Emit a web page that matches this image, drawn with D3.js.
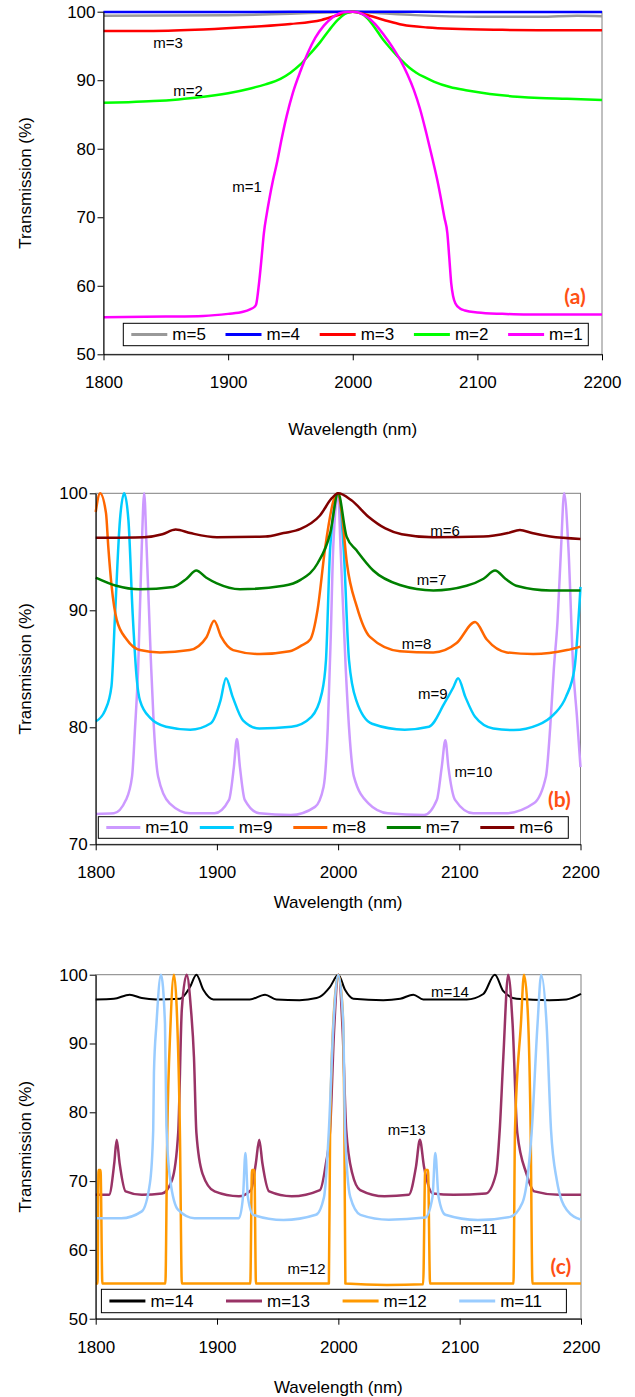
<!DOCTYPE html>
<html>
<head>
<meta charset="utf-8">
<script src="https://cdn.jsdelivr.net/npm/d3@7"></script>
<style>
  body { margin: 0; background: #fff; }
  svg { display: block; font-family: "Liberation Sans", Arial, sans-serif; }
</style>
</head>
<body>
<div id="chart"></div>
<script>
// === Data (wavelength nm, transmission %) ===
var xTicks = [1800, 1900, 2000, 2100, 2200];
var yTicksA = [50, 60, 70, 80, 90, 100];
var yTicksB = [70, 80, 90, 100];
var yTicksC = [50, 60, 70, 80, 90, 100];

// panel (a)
var a_m5 = [[1800,99.4],[1850,99.45],[1900,99.5],[1950,99.7],[1980,99.9],[2000,100],[2020,99.8],[2050,99.5],[2100,99.25],[2150,99.25],[2180,99.4],[2200,99.35]];
var a_m4 = [[1800,99.95],[1900,99.95],[2000,100],[2100,99.95],[2200,99.95]];
var a_m3 = [[1800,97.2],[1840,97.2],[1880,97.4],[1920,97.8],[1950,98.2],[1975,98.8],[1990,99.6],[2000,100],[2010,99.6],[2025,98.8],[2040,98.1],[2060,97.7],[2080,97.5],[2120,97.35],[2160,97.3],[2200,97.3]];
var a_m2 = [[1800,86.7],[1820,86.8],[1840,86.95],[1860,87.2],[1877,87.5],[1900,88.1],[1918,88.8],[1930,89.4],[1942,90.2],[1950,91.1],[1958,92.3],[1966,93.9],[1974,95.6],[1981,97.3],[1988,98.8],[1994,99.7],[2000,100],[2006,99.8],[2012,99.0],[2018,97.6],[2024,96.0],[2031,94.5],[2038,93.1],[2045,91.9],[2051,91.1],[2058,90.4],[2065,89.8],[2078,89.0],[2092,88.5],[2110,88.0],[2132,87.6],[2150,87.4],[2172,87.3],[2200,87.1]];
var a_m1 = [[1800,55.4],[1850,55.5],[1880,55.6],[1900,55.9],[1912,56.2],[1918,56.6],[1921,56.9],[1922.5,57.3],[1924.8,60.4],[1926.8,64],[1928.7,67.7],[1931,70.5],[1933,72.6],[1936,75.4],[1939,77.8],[1943,81.5],[1947,84.8],[1952,88.2],[1958,91.3],[1964,94.0],[1970,96.2],[1977,98.0],[1984,99.2],[1992,99.9],[2000,100],[2006,99.8],[2012,99.2],[2018,98.2],[2025,96.6],[2032,94.8],[2038,93.0],[2044,90.8],[2049,88.6],[2054,85.8],[2059,82.3],[2064,78.5],[2068,75.3],[2071,72.5],[2073.5,70],[2075.9,67.7],[2077.5,64],[2079,60.4],[2080.5,58.5],[2082.4,57.4],[2086,56.7],[2090,56.4],[2100,56.1],[2120,55.9],[2140,55.8],[2200,55.8]];

// panel (b)
var b_m10 = [[1800,72.6],[1815,72.65],[1825,73.8],[1830,75.8],[1832.5,80],[1835,85],[1838,95.4],[1840,100],[1842,95.4],[1845.5,85.8],[1848,80],[1851.5,75.8],[1861,73.5],[1878,72.65],[1898,72.65],[1910,73.8],[1914,76.6],[1916.5,79.0],[1919,76.6],[1923,73.8],[1935,72.65],[1961,72.5],[1981,73.2],[1988,74.9],[1991.5,80],[1994,88],[1996,95.4],[2000,100],[2002,95.4],[2006.3,85],[2009,80],[2013,75.8],[2025,73.5],[2041,72.65],[2071,72.5],[2081.5,73.8],[2085.5,76.6],[2088.5,78.9],[2091,76.6],[2096.5,73.8],[2111.5,72.65],[2138,72.65],[2161.5,73.5],[2171.5,75.8],[2175,80],[2178,85],[2181,89],[2184,95.4],[2186.5,100],[2190,95.4],[2194,85],[2197,81],[2200,76.6]];
var b_m9 = [[1800,80.5],[1808,81.5],[1813,83.5],[1816,89.7],[1820,97.7],[1823.5,100],[1827,97.7],[1830.5,89.7],[1834,84],[1836.5,82.3],[1845,80.8],[1858,80.05],[1878,79.8],[1895,80.35],[1903,82.3],[1907.5,84.2],[1913,82.6],[1921.5,80.6],[1935,79.9],[1961.5,80.05],[1978,80.9],[1986.5,82.9],[1990,85.75],[1993.5,95.4],[2000,100],[2004.5,95.4],[2009,85.75],[2015,82.3],[2028,80.3],[2055,79.8],[2075,80.05],[2088,82.1],[2095,83.4],[2099,84.2],[2105,82.6],[2113,80.9],[2128,79.9],[2145,79.76],[2165,80.2],[2178,81.1],[2188,82.6],[2195,85],[2200,92]];
var b_m8 = [[1800,98.4],[1803.6,100],[1808.5,98.3],[1810.4,95.4],[1813.2,92.0],[1817.3,89.2],[1825.6,87.5],[1836.5,86.6],[1853,86.4],[1877.6,86.6],[1891.4,87.7],[1897.7,89.1],[1903.7,87.7],[1913.4,86.6],[1935.4,86.26],[1960,86.5],[1970,87.0],[1977,87.5],[1983,90.0],[1989.4,95.4],[1996.3,99.4],[2000,100],[2003,98.3],[2007.3,94.0],[2015.5,90.3],[2026.5,87.7],[2051,86.5],[2078.6,86.4],[2097.8,87.2],[2113,89.0],[2122.7,87.5],[2139.2,86.4],[2161,86.26],[2188.8,86.6],[2200,86.9]];
var b_m7 = [[1800,92.8],[1817,92.1],[1836,91.8],[1864,92.0],[1875,92.7],[1883,93.4],[1891,92.8],[1900,92.3],[1919,91.8],[1955,92.1],[1969,92.6],[1983,94.0],[1993.5,96.6],[2000,100],[2007,96.3],[2015,95.15],[2029,93.4],[2051,92.16],[2078.6,91.7],[2106,92.1],[2120,92.7],[2129.5,93.4],[2138,92.7],[2147,92.1],[2175,91.7],[2200,91.7]];
var b_m6 = [[1800,96.2],[1840,96.25],[1855,96.5],[1866,96.9],[1878,96.6],[1900,96.25],[1940,96.3],[1955,96.6],[1969,96.95],[1985,98.1],[1995,99.6],[2000,100],[2011,99.4],[2025,98.0],[2039,97.0],[2052.5,96.5],[2078.6,96.24],[2120,96.3],[2140,96.6],[2150,96.86],[2160,96.6],[2175,96.3],[2200,96.1]];

// panel (c)
var c_m14 = [[1800,96.4],[1815,96.5],[1828,97.1],[1838,96.6],[1850,96.4],[1869.5,96.5],[1877.7,98.2],[1883,100],[1888.7,97.8],[1897,96.4],[1927,96.4],[1939.6,97.1],[1949,96.4],[1968,96.3],[1982,96.6],[1985,96.8],[1993,98.2],[2000,100],[2005.5,97.8],[2012.4,96.5],[2037,96.3],[2051,96.5],[2061.8,97.1],[2070,96.4],[2105.8,96.4],[2119.5,97.2],[2129,100],[2136,97.6],[2147,96.5],[2174,96.3],[2188,96.4],[2200,97.2]];
var c_m13 = [[1800,68.0],[1811,68.0],[1815.3,72.6],[1817.3,76.0],[1819.7,72.6],[1824.7,68.5],[1838,68.0],[1854.7,68.2],[1863,70.2],[1868,77],[1871,95],[1875,100],[1878.5,95],[1881,88],[1883,77],[1888,71.1],[1898,68.5],[1918,67.8],[1928,68.7],[1932,72.6],[1934.8,76.0],[1937.4,72.6],[1943,68.5],[1961.5,67.8],[1984.8,68.7],[1989.8,72.6],[1993.2,77.4],[1996.5,92],[2000,100],[2003.5,92],[2006.5,77.4],[2011.5,71.1],[2018,68.7],[2038,67.8],[2058,68.0],[2064,72.1],[2067.2,76.0],[2070.6,72.1],[2078,68.2],[2095,68.0],[2121.6,68.2],[2130,71.1],[2133,77.4],[2136,88.1],[2140,100],[2143.6,92.9],[2147.5,77.0],[2155,71.1],[2161.6,68.5],[2181.6,68.0],[2200,68.0]];
var c_m12 = [[1800,55.1],[1801.5,55.1],[1802.3,71.6],[1804,71.6],[1805.5,55.1],[1857.4,55.1],[1859,77],[1861.5,92],[1864.5,100],[1866.7,95.4],[1869.5,76.0],[1871,55.1],[1927.4,55.1],[1928.8,71.6],[1930.8,71.6],[1932.1,55.1],[1992.2,55.1],[1993.2,77.4],[1996.5,95],[2000,100],[2003.5,95],[2005,77.4],[2005.8,55.1],[2040,54.9],[2069.9,55.0],[2071.6,71.6],[2073.9,71.6],[2075.6,55.1],[2144.3,55.1],[2145.6,77.4],[2150.5,92.9],[2153,100],[2156,95],[2158.5,77.4],[2160,55.1],[2200,55.1]];
var c_m11 = [[1800,64.6],[1821,64.6],[1838,65.6],[1844.7,69.7],[1847.4,77.4],[1848,85.7],[1850.1,92.9],[1853.8,100],[1857.1,92.9],[1858.3,78],[1861.4,70.2],[1868,65.8],[1881.4,64.6],[1918,64.6],[1921.4,67.7],[1923.4,74.1],[1925.4,67.7],[1929.8,65.1],[1954.8,64.35],[1981.5,65.1],[1988.2,67.7],[1992.2,77.4],[1996,93],[2000,100],[2004,93],[2005.5,77.4],[2009.8,67.7],[2018.2,65.1],[2041.5,64.4],[2071.6,64.7],[2077.6,67.7],[2079.9,74.1],[2082.6,67.7],[2088.2,65.1],[2115,64.35],[2141.6,64.8],[2151.6,66.8],[2156.6,71.6],[2159.3,77],[2164.2,92.9],[2167.2,100],[2171.6,92.9],[2175.3,77.4],[2180,70.2],[2188.3,65.8],[2200,64.4]];

// === Layout options ===
var opts = {
  width: 635,
  height: 1397,
  tickFont: 17,
  labelFont: 15,
  tagColor: '#ff5014'
};

var panels = [
  {
    tag: '(a)', tagAt: [2187, 58.4],
    left: 103.5, right: 602, top: 11.7, bottom: 354.3,
    yDomain: [50, 100], yTicks: yTicksA, titleY: 435,
    legend: {x: 123.3, y: 323.3, w: 465, h: 22.4, step: 94.2, lineW: 36},
    series: [
      {name: 'm=5', color: '#999999', width: 2.5, values: a_m5},
      {name: 'm=4', color: '#0000ff', width: 2.5, values: a_m4},
      {name: 'm=3', color: '#ff0000', width: 2.5, values: a_m3},
      {name: 'm=2', color: '#00ff00', width: 2.5, values: a_m2},
      {name: 'm=1', color: '#ff00ff', width: 2.5, values: a_m1}
    ],
    labels: [['m=3', 1851.8, 95.4], ['m=2', 1867.8, 88.4], ['m=1', 1915.2, 74.4]]
  },
  {
    tag: '(b)', tagAt: [2192, 73.8],
    left: 95.7, right: 580.5, top: 493.3, bottom: 844.3,
    yDomain: [70, 100], yTicks: yTicksB, titleY: 908,
    legend: {x: 98.3, y: 816.7, w: 470, h: 21.6, step: 93.5, lineW: 34},
    series: [
      {name: 'm=10', color: '#cc99ff', width: 2.5, values: b_m10},
      {name: 'm=9', color: '#00ccff', width: 2.5, values: b_m9},
      {name: 'm=8', color: '#ff6600', width: 2.5, values: b_m8},
      {name: 'm=7', color: '#008000', width: 2.5, values: b_m7},
      {name: 'm=6', color: '#800000', width: 2.5, values: b_m6}
    ],
    labels: [['m=6', 2088.2, 96.8], ['m=7', 2077.2, 92.6], ['m=8', 2064.8, 87.1], ['m=9', 2078.2, 82.9], ['m=10', 2111.6, 76.2]]
  },
  {
    tag: '(c)', tagAt: [2192, 57.6],
    left: 95.7, right: 581, top: 974.7, bottom: 1318.7,
    yDomain: [50, 100], yTicks: yTicksC, titleY: 1393,
    legend: {x: 101.4, y: 1289.3, w: 465, h: 23.4, step: 116.6, lineW: 36},
    series: [
      {name: 'm=14', color: '#000000', width: 2, values: c_m14},
      {name: 'm=13', color: '#993366', width: 2.5, values: c_m13},
      {name: 'm=12', color: '#ff9900', width: 2.5, values: c_m12},
      {name: 'm=11', color: '#99ccff', width: 2.5, values: c_m11}
    ],
    labels: [['m=14', 2092, 97.5], ['m=13', 2056.3, 77.4], ['m=11', 2115.6, 63.1], ['m=12', 1973.8, 57.3]]
  }
];

var svg = d3.select('#chart')
  .append('svg')
    .attr('width', opts.width)
    .attr('height', opts.height);

svg.append('rect')
  .attr('width', opts.width)
  .attr('height', opts.height)
  .attr('fill', '#fff');

panels.forEach(drawPanel);

function drawPanel(p) {
  var x = d3.scaleLinear().domain([1800, 2200]).range([p.left, p.right]);
  var y = d3.scaleLinear().domain(p.yDomain).range([p.bottom, p.top]);

  var g = svg.append('g').attr('class', 'panel');

  // plot area frame (grey, Excel style)
  g.append('rect')
    .attr('x', p.left)
    .attr('y', p.top)
    .attr('width', p.right - p.left)
    .attr('height', p.bottom - p.top)
    .attr('fill', 'none')
    .attr('stroke', '#808080')
    .attr('stroke-width', 1);

  var line = d3.line()
    .x(function(d) { return x(d[0]); })
    .y(function(d) { return y(d[1]); })
    .curve(d3.curveMonotoneX);

  g.selectAll('path.series')
    .data(p.series)
    .enter()
    .append('path')
      .attr('class', 'series')
      .attr('fill', 'none')
      .attr('stroke', function(d) { return d.color; })
      .attr('stroke-width', function(d) { return d.width; })
      .attr('stroke-linejoin', 'round')
      .attr('d', function(d) { return line(d.values); });

  // axes
  var xAxis = d3.axisBottom(x).tickValues(xTicks).tickFormat(d3.format('d'))
    .tickSize(6).tickSizeOuter(0).tickPadding(16);
  var yAxis = d3.axisLeft(y).tickValues(p.yTicks).tickFormat(d3.format('d'))
    .tickSize(6).tickSizeOuter(0).tickPadding(2);

  var gx = g.append('g')
    .attr('transform', 'translate(0,' + p.bottom + ')')
    .call(xAxis);
  var gy = g.append('g')
    .attr('transform', 'translate(' + p.left + ',0)')
    .call(yAxis);

  [gx, gy].forEach(function(ax) {
    ax.selectAll('path, line').attr('stroke', '#000');
    ax.selectAll('text')
      .attr('fill', '#000')
      .style('font-size', opts.tickFont + 'px')
      .style('font-family', '"Liberation Sans", Arial, sans-serif');
  });

  // axis titles
  g.append('text')
    .attr('x', (p.left + p.right) / 2)
    .attr('y', p.titleY)
    .attr('text-anchor', 'middle')
    .style('font-size', opts.tickFont + 'px')
    .text('Wavelength (nm)');

  g.append('text')
    .attr('transform', 'translate(31,' + ((p.top + p.bottom) / 2) + ') rotate(-90)')
    .attr('text-anchor', 'middle')
    .style('font-size', opts.tickFont + 'px')
    .text('Transmission (%)');

  // curve labels
  g.selectAll('text.curve-label')
    .data(p.labels)
    .enter()
    .append('text')
      .attr('class', 'curve-label')
      .attr('x', function(d) { return x(d[1]); })
      .attr('y', function(d) { return y(d[2]); })
      .attr('dy', '0.35em')
      .attr('text-anchor', 'middle')
      .style('font-size', opts.labelFont + 'px')
      .text(function(d) { return d[0]; });

  // panel tag
  g.append('text')
    .attr('x', x(p.tagAt[0]))
    .attr('y', y(p.tagAt[1]))
    .attr('dy', '0.35em')
    .attr('text-anchor', 'end')
    .attr('fill', opts.tagColor)
    .style('font-family', 'Lato, "Open Sans", sans-serif')
    .style('font-weight', 'bold')
    .style('font-size', '21px')
    .text(p.tag);

  // legend
  var L = p.legend;
  var lg = g.append('g').attr('transform', 'translate(' + L.x + ',' + L.y + ')');
  lg.append('rect')
    .attr('width', L.w)
    .attr('height', L.h)
    .attr('fill', '#fff')
    .attr('stroke', '#000')
    .attr('stroke-width', 1);

  var items = lg.selectAll('g.item')
    .data(p.series)
    .enter()
    .append('g')
      .attr('class', 'item')
      .attr('transform', function(d, i) { return 'translate(' + (8 + i * L.step) + ',' + (L.h / 2) + ')'; });

  items.append('line')
    .attr('x1', 0)
    .attr('x2', L.lineW)
    .attr('stroke', function(d) { return d.color; })
    .attr('stroke-width', 3);

  items.append('text')
    .attr('x', L.lineW + 5)
    .attr('dy', '0.35em')
    .style('font-size', opts.tickFont + 'px')
    .text(function(d) { return d.name; });
}
</script>
</body>
</html>
